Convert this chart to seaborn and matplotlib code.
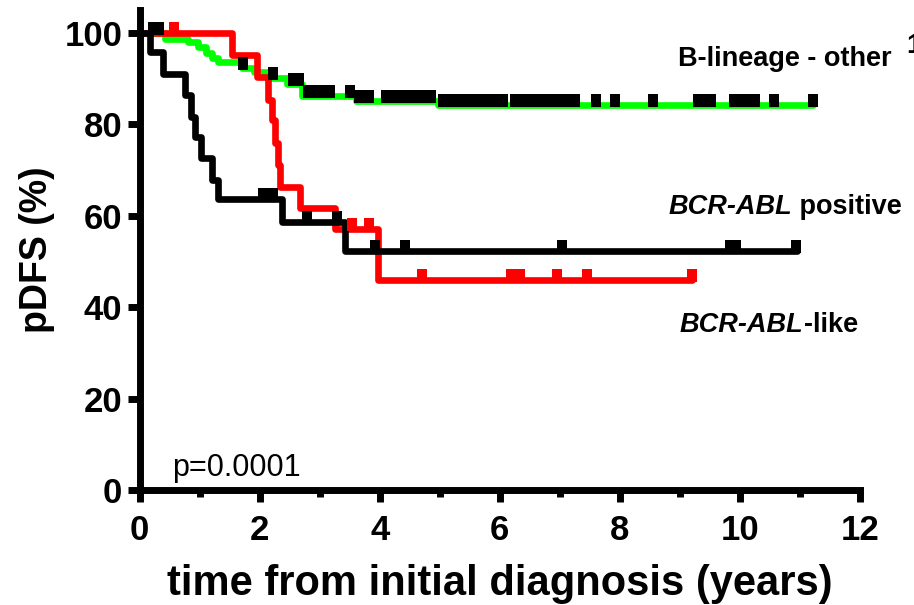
import numpy as np
import pandas as pd
import matplotlib
matplotlib.use("Agg")
import matplotlib.pyplot as plt
from matplotlib.path import Path
import seaborn as sns

# ---- Kaplan-Meier data: step times (years) and pDFS (%) after each step ----
other_time = [0, 0.43, 0.81, 0.98, 1.10, 1.20, 1.30, 1.70, 1.90, 2.15, 2.45, 2.70, 3.60, 4.97, 11.22]
other_surv = [100, 98.6, 98.0, 96.8, 95.6, 94.5, 93.6, 92.4, 91.5, 90.2, 88.8, 86.2, 85.1, 84.2, 84.2]
other_cens = [0.23, 0.33, 1.72, 2.22, 2.55, 2.65, 2.80, 2.90, 3.00, 3.18, 3.50, 3.66, 3.83,
              4.10, 4.25, 4.35, 4.45, 4.60, 4.75, 4.85, 5.05, 5.20, 5.35, 5.50, 5.65, 5.80,
              5.95, 6.05, 6.25, 6.40, 6.55, 6.70, 6.85, 7.00, 7.10, 7.25, 7.60, 7.92, 8.56,
              9.30, 9.42, 9.52, 9.90, 10.00, 10.10, 10.25, 10.56, 11.22]

pos_time = [0, 0.17, 0.39, 0.76, 0.85, 0.93, 1.02, 1.21, 1.31, 2.37, 3.43, 10.95]
pos_surv = [100, 95.8, 91.0, 86.5, 81.5, 77.2, 72.6, 67.8, 63.6, 58.6, 52.2, 52.2]
pos_cens = [2.06, 2.23, 2.79, 3.29, 3.93, 4.42, 7.04, 9.84, 9.93, 10.93]

like_time = [0, 1.54, 1.96, 2.14, 2.20, 2.26, 2.30, 2.34, 2.675, 3.26, 3.97, 9.21]
like_surv = [100, 95.2, 90.4, 85.3, 81.0, 76.0, 71.0, 66.3, 61.7, 57.2, 46.0, 46.0]
like_cens = [0.58, 3.54, 3.82, 4.71, 6.18, 6.34, 6.96, 7.46, 9.21]

x_ticks = [0, 2, 4, 6, 8, 10, 12]
y_ticks = [0, 20, 40, 60, 80, 100]
p_text = "p=0.0001"

GREEN, RED, BLACK = "#00ff00", "#ff0000", "#000000"

sns.set_style("ticks", {"axes.edgecolor": "black", "text.color": "black",
                        "xtick.color": "black", "ytick.color": "black",
                        "axes.labelcolor": "black"})
plt.rcParams["font.family"] = ["Liberation Sans", "DejaVu Sans"]


def step_level(times, surv, at):
    """pDFS of a step curve at the given times."""
    times = np.asarray(times)
    surv = np.asarray(surv)
    idx = np.searchsorted(times, at, side="right") - 1
    return surv[idx]


# censor tick: a small upright block sitting on the curve
censor_marker = Path([(-0.42, -0.2), (0.42, -0.2), (0.42, 1.0), (-0.42, 1.0), (-0.42, -0.2)],
                     [Path.MOVETO, Path.LINETO, Path.LINETO, Path.LINETO, Path.CLOSEPOLY])

fig = plt.figure(figsize=(9.14, 6.05), dpi=100)
ax = fig.add_axes([139.5 / 914, 1 - 490 / 605, (860 - 139.5) / 914, (490 - 10) / 605])

curves = [
    (other_time, other_surv, other_cens, GREEN, BLACK),
    (like_time, like_surv, like_cens, RED, RED),
    (pos_time, pos_surv, pos_cens, BLACK, BLACK),
]
for times, surv, cens, lc, cc in curves:
    df = pd.DataFrame({"t": times, "s": surv})
    sns.lineplot(data=df, x="t", y="s", ax=ax, color=lc, linewidth=4.8,
                 drawstyle="steps-post", estimator=None, sort=False, clip_on=False)
    cdf = pd.DataFrame({"t": cens, "s": step_level(times, surv, cens)})
    sns.scatterplot(data=cdf, x="t", y="s", ax=ax, marker=censor_marker, s=250,
                    color=cc, linewidth=0, clip_on=False, zorder=5)

ax.set_xlim(0, 12)
ax.set_ylim(0, 105)
ax.set_xticks(x_ticks)
ax.set_xticks([1, 3, 5, 7, 9, 11], minor=True)
ax.set_yticks(y_ticks)
ax.set_xticklabels([str(v) for v in x_ticks], fontsize=25, fontweight="bold")
ax.set_yticklabels([str(v) for v in y_ticks], fontsize=25, fontweight="bold")
ax.tick_params(axis="both", which="major", direction="out", length=8.5, width=5, pad=4)
ax.tick_params(axis="x", which="major", pad=9)
ax.tick_params(axis="x", which="minor", direction="out", length=5.2, width=5)

for side in ("top", "right"):
    ax.spines[side].set_visible(False)
for side in ("left", "bottom"):
    ax.spines[side].set_linewidth(5)
    ax.spines[side].set_capstyle("projecting")

ax.set_xlabel("time from initial diagnosis (years)", fontsize=30, fontweight="bold", labelpad=12)
ax.set_ylabel("pDFS (%)", fontsize=27, fontweight="bold", labelpad=7)

ax.text(0.54, 3.1, p_text, fontsize=22, va="baseline", ha="left")

label_kw = dict(fontsize=19.5, fontweight="bold", va="baseline", ha="left", clip_on=False)
ax.text(8.975, 92.8, "B-lineage - other", **label_kw)
ax.text(12.77, 95.5, "1", **label_kw)

fig.canvas.draw()
renderer = fig.canvas.get_renderer()


def two_part_label(x, y, italic_part, plain_part):
    t1 = ax.text(x, y, italic_part, fontstyle="italic", **label_kw)
    bb = t1.get_window_extent(renderer=renderer)
    x2 = ax.transData.inverted().transform((bb.x1, 0))[0]
    ax.text(x2, y, plain_part, **label_kw)


two_part_label(8.81, 60.4, "BCR-ABL", " positive")
two_part_label(9.0, 34.6, "BCR-ABL", "-like")

fig.savefig("out.png", dpi=100)
